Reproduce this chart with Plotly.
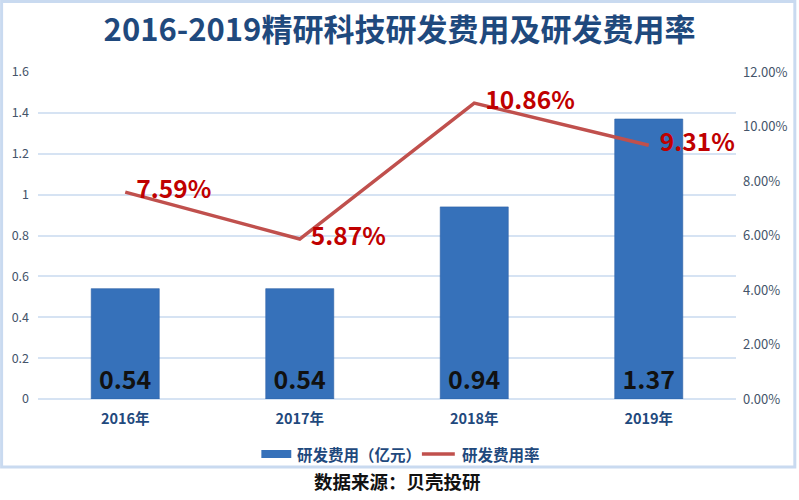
import plotly.graph_objects as go

years = ["2016年", "2017年", "2018年", "2019年"]
rd_cost = [0.54, 0.54, 0.94, 1.37]
rd_rate = [0.0759, 0.0587, 0.1086, 0.0931]
rate_labels = ["7.59%", "5.87%", "10.86%", "9.31%"]
cost_labels = ["0.54", "0.54", "0.94", "1.37"]

FONT = "Noto Sans CJK SC"
DARK_BLUE = "#1F497D"

fig = go.Figure()
fig.add_trace(go.Bar(
    x=years, y=rd_cost, name="研发费用（亿元）",
    marker=dict(color="#3671BA", line=dict(color="#2E62A6", width=0.6)),
    width=0.39,
    text=cost_labels, textposition="inside", insidetextanchor="start",
    textfont=dict(family=FONT, size=25, color="#111111", weight="bold"),
    textangle=0, cliponaxis=False, showlegend=False,
))
fig.add_trace(go.Scatter(
    x=years, y=rd_rate, name="研发费用率", yaxis="y2",
    mode="lines+text", line=dict(color="#C0504D", width=3.5),
    text=rate_labels, texttemplate="\u00a0\u00a0%{text}", textposition="middle right",
    textfont=dict(family=FONT, size=24.5, color="#C00000", weight="bold"),
    cliponaxis=False, showlegend=False,
))

fig.update_layout(
    width=799, height=500,
    margin=dict(l=38, r=61, t=72, b=101),
    paper_bgcolor="white", plot_bgcolor="white",
    font=dict(family=FONT, color="#44546A"),
    title=dict(text="<b>2016-2019精研科技研发费用及研发费用率</b>",
               x=0.5, xanchor="center", y=0.94, yanchor="middle",
               font=dict(family=FONT, size=31, color=DARK_BLUE)),
    xaxis=dict(showgrid=False, showline=False, ticks="", ticklabelstandoff=9,
               tickfont=dict(family=FONT, size=14.5, color=DARK_BLUE, weight="bold")),
    yaxis=dict(range=[0, 1.6], dtick=0.2, showgrid=True, gridcolor="#D6E3F3", gridwidth=1.5,
               zeroline=True, zerolinecolor="#D6E3F3", zerolinewidth=1.5,
               showline=False, ticks="", ticklabelstandoff=8,
               tickfont=dict(family=FONT, size=12.5, color="#44546A")),
    yaxis2=dict(range=[0, 0.12], dtick=0.02, tickformat=".2%", overlaying="y", side="right",
                showgrid=False, zeroline=False, showline=False, ticks="", ticklabelstandoff=6,
                tickfont=dict(family=FONT, size=13, color="#44546A")),
    showlegend=False,
)

def px_x(px):
    return (px - 38) / 700

def px_y(py):
    return (399 - py) / 327

shapes = [
    dict(type="rect", xref="paper", yref="paper", x0=px_x(1.5), x1=px_x(797), y0=px_y(467), y1=px_y(1.5),
         line=dict(color="#C9DAF0", width=3), fillcolor="rgba(0,0,0,0)", layer="below"),
    dict(type="rect", xref="paper", yref="paper", x0=px_x(262), x1=px_x(292), y0=px_y(458), y1=px_y(450),
         line=dict(width=0), fillcolor="#3671BA"),
    dict(type="line", xref="paper", yref="paper", x0=px_x(423), x1=px_x(456), y0=px_y(454), y1=px_y(454),
         line=dict(color="#C0504D", width=3.5)),
]
fig.update_layout(shapes=shapes)

annotations = [
    dict(text="<b>研发费用（亿元）</b>", x=px_x(296), y=px_y(454), xref="paper", yref="paper",
         xanchor="left", yanchor="middle", showarrow=False,
         font=dict(family=FONT, size=15.5, color=DARK_BLUE)),
    dict(text="<b>研发费用率</b>", x=px_x(461), y=px_y(454), xref="paper", yref="paper",
         xanchor="left", yanchor="middle", showarrow=False,
         font=dict(family=FONT, size=15.5, color=DARK_BLUE)),
    dict(text="<b>数据来源：贝壳投研</b>", x=px_x(399), y=px_y(481), xref="paper", yref="paper",
         xanchor="center", yanchor="middle", showarrow=False,
         font=dict(family=FONT, size=18.5, color="#111111")),
]
fig.update_layout(annotations=annotations)

fig.write_html("out.html", config={"displayModeBar": False},
               post_script="document.body.style.margin='0';document.body.style.overflow='hidden';")
